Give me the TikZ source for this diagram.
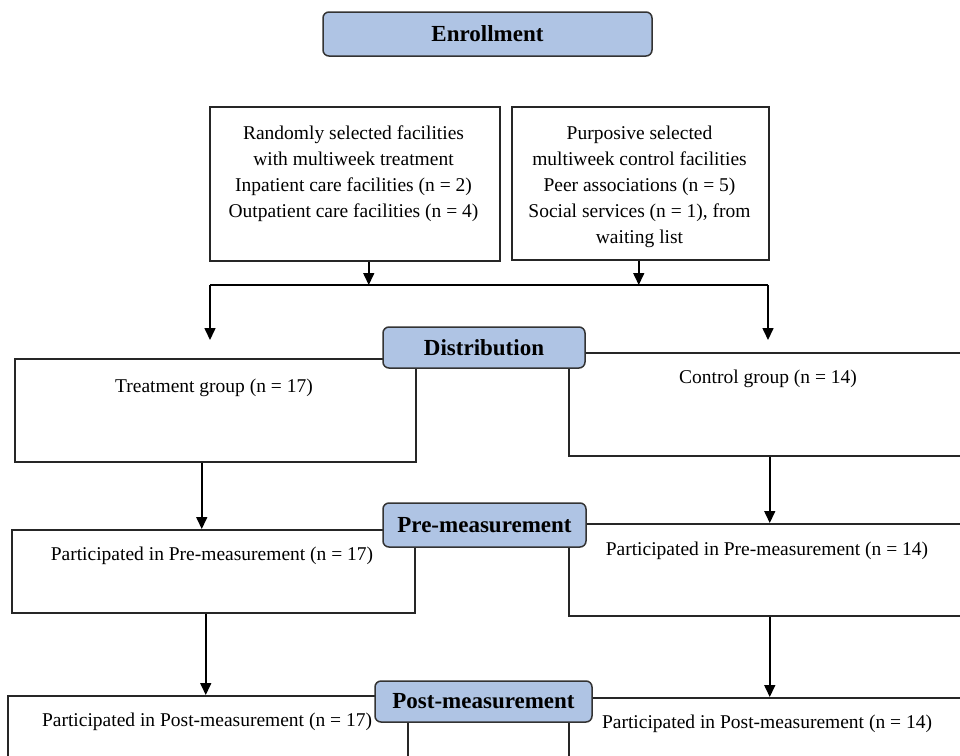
\documentclass[tikz,border=0pt]{standalone}
\usepackage{fontspec}
\setmainfont{Liberation Serif}
\usetikzlibrary{arrows.meta}
\definecolor{lblue}{HTML}{AFC4E4}
\begin{document}
\begin{tikzpicture}[x=1pt,y=-1pt,
  box/.style={draw=black!85,line width=1.5pt,rectangle,inner sep=0pt,anchor=north west},
  lbl/.style={draw=black!80,line width=1.5pt,fill=lblue,rounded corners=6pt,inner sep=0pt,font=\fontsize{23}{27}\selectfont\bfseries},
  txt/.style={font=\fontsize{19.5}{26}\selectfont,inner sep=0pt,align=center},
  arr/.style={line width=1.6pt,-{Triangle[width=11pt,length=12pt]}},
  ln/.style={line width=1.6pt}]
\useasboundingbox (0,0) rectangle (960,755);
\clip (0,0) rectangle (960,755);
% boxes
\node[box,minimum width=290pt,minimum height=154pt] (b1) at (209,106) {};
\node[box,minimum width=257pt,minimum height=153pt] (b2) at (511,106) {};
\node[box,minimum width=401pt,minimum height=103pt] (treat) at (14,358) {};
\node[box,minimum width=400pt,minimum height=103pt] (ctrl) at (568,352) {};
\node[box,minimum width=403pt,minimum height=83pt] (pret) at (11,529) {};
\node[box,minimum width=400pt,minimum height=92pt] (prec) at (568,523) {};
\node[box,minimum width=400pt,minimum height=120pt] (postt) at (7,695) {};
\node[box,minimum width=400pt,minimum height=120pt] (postc) at (568,697) {};
% texts
\node[txt,anchor=north] (t1) at (353.5,126) {Randomly selected facilities\\with multiweek treatment\\Inpatient care facilities (n = 2)\\Outpatient care facilities (n = 4)};
\node[txt,anchor=north] (t2) at (639.5,126) {Purposive selected\\multiweek control facilities\\Peer associations (n = 5)\\Social services (n = 1), from\\waiting list};
\node[txt,anchor=base] (t3) at (214,392) {Treatment group (n = 17)};
\node[txt,anchor=base] (t4) at (768,383) {Control group (n = 14)};
\node[txt,anchor=base] (t5) at (212,560) {Participated in Pre-measurement (n = 17)};
\node[txt,anchor=base] (t6) at (767,555) {Participated in Pre-measurement (n = 14)};
\node[txt,anchor=base] (t7) at (207,726) {Participated in Post-measurement (n = 17)};
\node[txt,anchor=base] (t8) at (767,728) {Participated in Post-measurement (n = 14)};
% connectors
\coordinate (jl) at (210,285);
\coordinate (jr) at (768,285);
\coordinate (dl) at (210,340);
\coordinate (dr) at (768,340);
\draw[arr] ([xshift=14pt]b1.south) -- ([xshift=14pt]b1.south |- jl);
\draw[arr] ([xshift=-1.5pt]b2.south) -- ([xshift=-1.5pt]b2.south |- jr);
\draw[ln] (jl) -- (jr);
\draw[arr] (jl) -- (dl);
\draw[arr] (jr) -- (dr);
\draw[arr] ([xshift=-13.5pt]treat.south) -- ([xshift=-13.5pt]treat.south |- pret.north);
\draw[arr] ([xshift=1pt]ctrl.south) -- ([xshift=1pt]ctrl.south |- prec.north);
\draw[arr] ([xshift=-7.5pt]pret.south) -- ([xshift=-7.5pt]pret.south |- postt.north);
\draw[arr] ([xshift=1pt]prec.south) -- ([xshift=1pt]prec.south |- postc.north);
% labels
\node[lbl,minimum width=329pt,minimum height=44pt] (enr) at (487.5,34) {Enrollment};
\node[lbl,minimum width=202pt,minimum height=41pt] (dist) at (484,347.5) {Distribution};
\node[lbl,minimum width=203pt,minimum height=44pt] (pre) at (484.5,525) {Pre-measurement};
\node[lbl,minimum width=217pt,minimum height=41pt] (post) at (483.5,701.5) {Post-measurement};
\end{tikzpicture}
\end{document}
